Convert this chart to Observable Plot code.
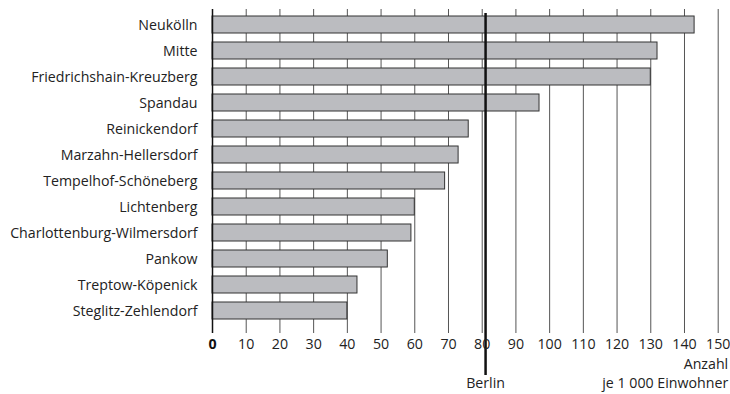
<!DOCTYPE html>
<html>
<head>
<meta charset="utf-8">
<script src="https://cdn.jsdelivr.net/npm/d3@7"></script>
<script src="https://cdn.jsdelivr.net/npm/@observablehq/plot@0.6"></script>
<style>
  html, body { margin: 0; padding: 0; background: #fff; }
  svg { display: block; }
</style>
</head>
<body>
<div id="chart"></div>
<script>
const districts = [
  "Neukölln", "Mitte", "Friedrichshain-Kreuzberg", "Spandau", "Reinickendorf",
  "Marzahn-Hellersdorf", "Tempelhof-Schöneberg", "Lichtenberg",
  "Charlottenburg-Wilmersdorf", "Pankow", "Treptow-Köpenick", "Steglitz-Zehlendorf"
];
const values = [143, 132, 130, 97, 76, 73, 69, 60, 59, 52, 43, 40];
const berlin = 81;
const berlinLabel = "Berlin";
const xTicks = [0, 10, 20, 30, 40, 50, 60, 70, 80, 90, 100, 110, 120, 130, 140, 150];
const axisLabel1 = "Anzahl";
const axisLabel2 = "je 1 000 Einwohner";

const data = districts.map((d, i) => ({district: d, value: values[i]}));
const font = "'Open Sans', sans-serif";
const fs = 14.2;

const chart = Plot.plot({
  width: 730,
  height: 394,
  marginLeft: 212,
  marginRight: 12.3,
  marginTop: 9,
  marginBottom: 61,
  style: {fontFamily: font, fontSize: fs + "px", color: "#222", background: "#fff"},
  x: {domain: [0, 150], axis: null},
  y: {domain: districts, range: [9, 326.5], paddingInner: 0.34, paddingOuter: 0.17, axis: null},
  marks: [
    Plot.ruleX(xTicks.filter(t => t > 0), {stroke: "#555", strokeWidth: 1}),
    Plot.barX(data, {x: "value", y: "district", fill: "#bbbcc0", stroke: "#333", strokeWidth: 1}),
    Plot.ruleX([0], {stroke: "#111", strokeWidth: 1.5}),
    Plot.ruleX([berlin], {stroke: "#111", strokeWidth: 2.5, insetTop: 4, insetBottom: -42}),
    Plot.axisY({tickSize: 0, tickPadding: 15, fontSize: fs, fill: "#222", label: null}),
    Plot.text(xTicks.filter(t => t > 0), {x: d => d, frameAnchor: "bottom", dy: 15, fontSize: fs, fill: "#222"}),
    Plot.text([0], {x: d => d, frameAnchor: "bottom", dy: 15, fontSize: fs, fontWeight: "bold", fill: "#111"}),
    Plot.text([berlinLabel], {x: () => berlin, frameAnchor: "bottom", dy: 54, fontSize: fs, fill: "#222"}),
    Plot.text([axisLabel1], {x: () => 150, frameAnchor: "bottom", dy: 35, dx: 10, textAnchor: "end", fontSize: fs, fill: "#222"}),
    Plot.text([axisLabel2], {x: () => 150, frameAnchor: "bottom", dy: 54, dx: 10, textAnchor: "end", fontSize: fs, fill: "#222"})
  ]
});
document.getElementById("chart").appendChild(chart);
</script>
</body>
</html>
